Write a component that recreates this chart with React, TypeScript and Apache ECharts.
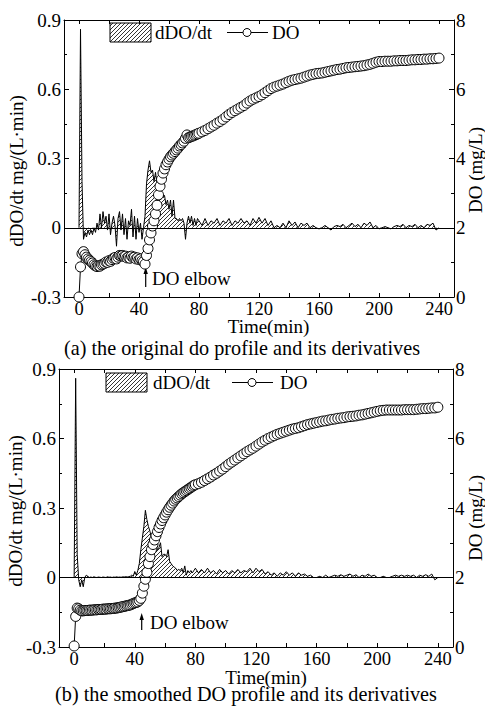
import React, { useEffect, useRef } from "react";
import * as echarts from "echarts";

// sampling times (min)
const times = [
  0, 1, 2, 3, 4, 5, 6, 7, 8, 9,
  10, 11, 12, 13, 14, 15, 16, 17, 18, 19,
  20, 21, 22, 23, 24, 25, 26, 27, 28, 29,
  30, 31, 32, 33, 34, 35, 36, 37, 38, 39,
  40, 41, 42, 43, 44, 45, 46, 47, 48, 49,
  50, 51, 52, 53, 54, 55, 56, 57, 58, 59,
  60, 61, 62, 63, 64, 65, 66, 67, 68, 69,
  70, 71, 72, 73, 74, 75, 76, 77, 78, 79,
  80,
  82, 84, 86, 88, 90, 92, 94, 96, 98, 100,
  102, 104, 106, 108, 110, 112, 114, 116, 118, 120,
  122, 124, 126, 128, 130, 132, 134, 136, 138, 140,
  142, 144, 146, 148, 150, 152, 154, 156, 158, 160,
  162, 164, 166, 168, 170, 172, 174, 176, 178, 180,
  182, 184, 186, 188, 190, 192, 194, 196, 198, 200,
  202, 204, 206, 208, 210, 212, 214, 216, 218, 220,
  222, 224, 226, 228, 230, 232, 234, 236, 238, 240,
];

// (a) original profile
const dDOa = [
  0, 0.86, 0.2, -0.05, -0.02, -0.04, -0.01, -0.03, -0.01, -0.03,
  0.0, -0.02, 0.02, -0.01, 0.06, 0.0, 0.07, 0.02, 0.05, -0.01,
  0.06, -0.03, 0.02, 0.05, 0.01, -0.08, 0.04, 0.07, -0.01, 0.06,
  -0.03, 0.04, -0.05, 0.03, 0.01, 0.08, -0.04, 0.05, -0.05, 0.04,
  -0.02, 0.02, -0.05, 0.0, 0.05, 0.19, 0.25, 0.29, 0.24, 0.25,
  0.2, 0.24, 0.19, 0.2, 0.16, 0.16, 0.13, 0.14, 0.1, 0.12,
  0.08, 0.12, 0.05, 0.12, 0.04, 0.04, 0.03, 0.04, 0.03, 0.04,
  0.02, -0.05, 0.02, 0.05, 0.02, 0.05, 0.01, 0.04, 0.01, 0.04,
  0.03,
  0.01, 0.04, 0.01, 0.03, 0.02, 0.04, 0.01, 0.03, 0.02, 0.04,
  0.01, 0.03, 0.02, 0.04, 0.02, 0.03, 0.01, 0.04, 0.02, 0.045,
  0.02, 0.04, 0.01, 0.03, 0.0, 0.01, 0.0, 0.02, 0.0, 0.03,
  0.01, 0.025, 0.0, 0.02, 0.01, 0.02, 0.0, 0.01, 0.0, -0.005,
  0.0, 0.01, 0.0, -0.01, 0.005, 0.01, 0.005, 0.015, 0.0, 0.01,
  0.02, 0.005, 0.015, 0.0, 0.02, 0.01, 0.025, 0.0, 0.01, -0.005,
  0.0, 0.005, 0.0, -0.005, 0.005, 0.01, 0.005, 0.015, 0.0, 0.01,
  0.005, 0.015, 0.0, 0.01, 0.0, 0.015, 0.01, 0.02, -0.01, 0.0,
];
const DOa = [
  0.0, 0.87, 1.25, 1.31, 1.22, 1.15, 1.1, 1.06, 1.02, 0.98,
  0.93, 0.9, 0.88, 0.9, 0.89, 0.93, 0.95, 0.97, 1.01, 1.0,
  1.05, 1.03, 1.08, 1.12, 1.14, 1.1, 1.15, 1.2, 1.19, 1.2,
  1.17, 1.18, 1.13, 1.15, 1.12, 1.18, 1.14, 1.15, 1.1, 1.13,
  1.08, 1.1, 1.05, 1.02, 0.95, 1.2, 1.4, 1.65, 1.85, 2.05,
  2.2, 2.4, 2.65, 2.95, 3.2, 3.4, 3.58, 3.7, 3.82, 3.9,
  3.98, 4.05, 4.1, 4.15, 4.2, 4.25, 4.3, 4.36, 4.4, 4.45,
  4.5, 4.58, 4.68, 4.6, 4.62, 4.64, 4.65, 4.67, 4.69, 4.71,
  4.73,
  4.77, 4.81, 4.86, 4.91, 4.96, 5.02, 5.07, 5.13, 5.2, 5.27,
  5.33, 5.38, 5.43, 5.48, 5.53, 5.6, 5.66, 5.71, 5.75, 5.79,
  5.84, 5.9, 5.96, 6.02, 6.06, 6.09, 6.12, 6.15, 6.19, 6.23,
  6.26, 6.28, 6.3, 6.32, 6.35, 6.38, 6.41, 6.43, 6.45, 6.46,
  6.47, 6.49, 6.51, 6.53, 6.55, 6.57, 6.58, 6.6, 6.62, 6.63,
  6.64, 6.65, 6.66, 6.67, 6.68, 6.7, 6.72, 6.75, 6.78, 6.8,
  6.8, 6.81, 6.81, 6.81, 6.82, 6.82, 6.83, 6.83, 6.83, 6.84,
  6.85, 6.85, 6.86, 6.86, 6.87, 6.87, 6.88, 6.88, 6.89, 6.9,
];

// (b) smoothed profile
const dDOb = [
  0, 0.86, 0.1, -0.01, -0.04, -0.01, -0.04, 0.0, 0.01, 0.005,
  0.0, 0.002, 0.0, 0.003, 0.001, 0.0, 0.002, 0.001, 0.0, 0.002,
  0.001, 0.0, 0.003, 0.001, 0.002, 0.0, 0.002, 0.001, 0.003, 0.001,
  0.002, 0.001, 0.003, 0.002, 0.004, 0.002, 0.004, 0.005, 0.01, 0.005,
  0.026, 0.01, 0.03, 0.06, 0.12, 0.17, 0.22, 0.29, 0.25, 0.22,
  0.2, 0.17, 0.17, 0.15, 0.14, 0.12, 0.13, 0.15, 0.09, 0.1,
  0.1, 0.09, 0.12, 0.07, 0.06, 0.05, 0.045, 0.04, 0.03, 0.035,
  0.03, 0.04, 0.02, 0.05, 0.01, 0.03, 0.02, 0.03, 0.02, 0.03,
  0.04,
  0.02, 0.035, 0.02, 0.04, 0.02, 0.03, 0.015, 0.035, 0.02, 0.03,
  0.015, 0.03, 0.02, 0.035, 0.02, 0.03, 0.025, 0.04, 0.02, 0.04,
  0.025, 0.035, 0.015, 0.025, 0.01, 0.02, 0.005, 0.02, 0.01, 0.025,
  0.01, 0.02, 0.005, 0.02, 0.01, 0.015, 0.005, 0.01, 0.0, 0.0,
  0.005, 0.0, 0.01, 0.0, 0.005, 0.01, 0.005, 0.012, 0.005, 0.01,
  0.015, 0.005, 0.012, 0.0, 0.01, 0.005, 0.015, 0.005, 0.01, 0.0,
  0.0, 0.005, 0.0, 0.0, 0.005, 0.01, 0.005, 0.01, 0.005, 0.01,
  0.005, 0.01, 0.0, 0.01, 0.005, 0.012, 0.005, 0.015, -0.01, 0.0,
];
const DOb = [
  0.03, 0.88, 1.12, 1.1, 1.06, 1.04, 1.04, 1.05, 1.05, 1.05,
  1.06, 1.06, 1.06, 1.07, 1.07, 1.07, 1.08, 1.08, 1.08, 1.09,
  1.09, 1.09, 1.1, 1.1, 1.1, 1.11, 1.11, 1.12, 1.12, 1.13,
  1.14, 1.15, 1.16, 1.17, 1.18, 1.19, 1.2, 1.21, 1.23, 1.25,
  1.27, 1.28, 1.3, 1.34, 1.4, 1.55, 1.75, 1.95, 2.15, 2.4,
  2.6, 2.8, 2.95, 3.08, 3.2, 3.32, 3.44, 3.54, 3.64, 3.72,
  3.8, 3.88, 3.95, 4.02, 4.08, 4.14, 4.2, 4.25, 4.29, 4.33,
  4.37, 4.41, 4.44, 4.47, 4.5, 4.53, 4.56, 4.59, 4.62, 4.65,
  4.67,
  4.7, 4.74, 4.79, 4.84, 4.89, 4.95, 5.0, 5.06, 5.12, 5.19,
  5.26, 5.32, 5.38, 5.44, 5.5, 5.56, 5.62, 5.67, 5.72, 5.78,
  5.84, 5.9, 5.95, 6.0, 6.04, 6.08, 6.12, 6.15, 6.18, 6.21,
  6.24, 6.27, 6.29, 6.31, 6.34, 6.37, 6.4, 6.42, 6.44, 6.46,
  6.48, 6.5, 6.51, 6.53, 6.55, 6.56, 6.58, 6.59, 6.6, 6.62,
  6.63, 6.64, 6.65, 6.67, 6.68, 6.7, 6.72, 6.74, 6.76, 6.78,
  6.8, 6.81, 6.82, 6.82, 6.82, 6.82, 6.82, 6.82, 6.83, 6.83,
  6.83, 6.83, 6.84, 6.85, 6.86, 6.86, 6.87, 6.88, 6.88, 6.9,
];

const xLabelValues = [0, 40, 80, 120, 160, 200, 240];
const xTickValues = [0, 20, 40, 60, 80, 100, 120, 140, 160, 180, 200, 220, 240];

const captionA = "(a) the original do profile and its derivatives";
const captionB = "(b) the smoothed DO profile and its derivatives";
const xName = "Time(min)";
const yLeftName = "dDO/dt mg/(L\u00B7min)";
const yRightName = "DO (mg/L)";
const elbowText = "DO elbow";
const legendD = "dDO/dt";
const legendDO = "DO";

const FONT = "Liberation Serif";
const FS = 19;

function makeHatch(): HTMLCanvasElement {
  const s = 4;
  const c = document.createElement("canvas");
  c.width = s;
  c.height = s;
  const ctx = c.getContext("2d")!;
  ctx.strokeStyle = "#000";
  ctx.lineWidth = 0.8;
  ctx.beginPath();
  ctx.moveTo(0, s);
  ctx.lineTo(s, 0);
  ctx.moveTo(-1, 1);
  ctx.lineTo(1, -1);
  ctx.moveTo(s - 1, s + 1);
  ctx.lineTo(s + 1, s - 1);
  ctx.stroke();
  return c;
}

export default function App() {
  const ref = useRef<HTMLDivElement>(null);

  useEffect(() => {
    if (!ref.current) return;
    const chart = echarts.init(ref.current, null, { renderer: "svg" });
    const hatch = makeHatch();
    const pattern: any = { image: hatch, repeat: "repeat", imageWidth: 4, imageHeight: 4 };

    const grids = [
      { left: 64, top: 20, width: 390, height: 277 },
      { left: 59, top: 369, width: 394, height: 278 },
    ];

    const xAxisFor = (gi: number, pos: "bottom" | "top") => ({
      type: "value",
      gridIndex: gi,
      position: pos,
      min: -10,
      max: 250,
      axisLine: { show: true, onZero: false, lineStyle: { color: "#000", width: 1 } },
      axisTick: {
        show: true,
        inside: true,
        length: 4,
        customValues: xTickValues,
        lineStyle: { color: "#000", width: 1 },
      },
      axisLabel: {
        show: pos === "bottom",
        customValues: xLabelValues,
        color: "#000",
        fontSize: 18.5,
        fontFamily: FONT,
        margin: 2,
      },
      splitLine: { show: false },
    });

    const yLeft = (gi: number) => ({
      type: "value",
      gridIndex: gi,
      position: "left",
      min: -0.3,
      max: 0.9,
      interval: 0.3,
      axisLine: { show: true, onZero: false, lineStyle: { color: "#000", width: 1 } },
      axisTick: { show: true, inside: true, length: 5, lineStyle: { color: "#000" } },
      minorTick: { show: true, splitNumber: 2, length: 3, lineStyle: { color: "#000" } },
      axisLabel: { color: "#000", fontSize: FS, fontFamily: FONT, margin: 3 },
      splitLine: { show: false },
    });

    const yRight = (gi: number) => ({
      type: "value",
      gridIndex: gi,
      position: "right",
      min: 0,
      max: 8,
      interval: 2,
      axisLine: { show: true, onZero: false, lineStyle: { color: "#000", width: 1 } },
      axisTick: { show: true, inside: true, length: 5, lineStyle: { color: "#000" } },
      minorTick: { show: true, splitNumber: 2, length: 3, lineStyle: { color: "#000" } },
      axisLabel: { color: "#000", fontSize: FS, fontFamily: FONT, margin: 2 },
      splitLine: { show: false },
    });

    const derivSeries = (xi: number, yi: number, vals: number[]) => ({
      type: "line",
      xAxisIndex: xi,
      yAxisIndex: yi,
      data: times.map((t, i) => [t, vals[i]]),
      symbol: "none",
      lineStyle: { color: "#000", width: 1 },
      areaStyle: { color: pattern, opacity: 1, origin: 0 },
      z: 2,
      markLine: {
        silent: true,
        symbol: "none",
        label: { show: false },
        lineStyle: { color: "#000", width: 1, type: "solid" },
        data: [{ yAxis: 0 }],
      },
    });

    const doSeries = (xi: number, yi: number, vals: number[]) => ({
      type: "line",
      xAxisIndex: xi,
      yAxisIndex: yi,
      data: times.map((t, i) => [t, vals[i]]),
      symbol: "circle",
      symbolSize: 10,
      showAllSymbol: true,
      lineStyle: { color: "#000", width: 1 },
      itemStyle: { color: "#fff", borderColor: "#000", borderWidth: 1 },
      z: 3,
    });

    const txt = (text: string, x: number, y: number, align: string, size = FS, rot = 0) => ({
      type: "text",
      x,
      y,
      rotation: rot,
      style: {
        text,
        font: `${size}px '${FONT}'`,
        fill: "#000",
        textAlign: align,
        textVerticalAlign: "middle",
        align,
        verticalAlign: "middle",
      },
    });

    const legend = (rx: number, ry: number, tx: number, lx1: number, lx2: number, cx: number, dox: number) => [
      {
        type: "rect",
        shape: { x: rx, y: ry, width: 41, height: 19 },
        style: { fill: pattern, stroke: "#000", lineWidth: 1 },
      },
      txt(legendD, tx, ry + 9.5, "left"),
      {
        type: "line",
        shape: { x1: lx1, y1: ry + 9.5, x2: lx2, y2: ry + 9.5 },
        style: { stroke: "#000", lineWidth: 1 },
      },
      {
        type: "circle",
        shape: { cx, cy: ry + 9.5, r: 4 },
        style: { fill: "#fff", stroke: "#000", lineWidth: 1 },
      },
      txt(legendDO, dox, ry + 9.5, "left"),
    ];

    const arrow = (x: number, tip: number, tail: number) => [
      {
        type: "line",
        shape: { x1: x, y1: tip + 4, x2: x, y2: tail },
        style: { stroke: "#000", lineWidth: 1.2 },
      },
      {
        type: "polygon",
        shape: { points: [[x, tip], [x - 2.2, tip + 7], [x + 2.2, tip + 7]] },
        style: { fill: "#000" },
      },
    ];

    const rot = Math.PI / 2;

    chart.setOption({
      animation: false,
      backgroundColor: "#fff",
      grid: grids,
      xAxis: [xAxisFor(0, "bottom"), xAxisFor(0, "top"), xAxisFor(1, "bottom"), xAxisFor(1, "top")],
      yAxis: [yLeft(0), yRight(0), yLeft(1), yRight(1)],
      series: [
        derivSeries(0, 0, dDOa),
        doSeries(0, 1, DOa),
        derivSeries(2, 2, dDOb),
        doSeries(2, 3, DOb),
      ],
      graphic: [
        ...legend(110, 23, 155, 227, 268, 247, 272),
        ...legend(106, 373, 153, 232, 273, 252, 280),
        ...arrow(145.7, 267, 287),
        txt(elbowText, 152, 278, "left"),
        ...arrow(141.7, 613, 630),
        txt(elbowText, 150, 622, "left"),
        txt(xName, 268.5, 326, "center"),
        txt(xName, 266, 677, "center"),
        txt(captionA, 242, 348, "center", 20.2),
        txt(captionB, 246, 694, "center", 20.2),
        txt(yLeftName, 16.5, 171, "center", FS, rot),
        txt(yLeftName, 15, 511, "center", FS, rot),
        txt(yRightName, 475, 170, "center", FS, rot),
        txt(yRightName, 475, 518, "center", FS, rot),
      ],
    });

    return () => chart.dispose();
  }, []);

  return (
    <div
      ref={ref}
      style={{ position: "absolute", left: 0, top: 0, width: 485, height: 708 }}
    />
  );
}
